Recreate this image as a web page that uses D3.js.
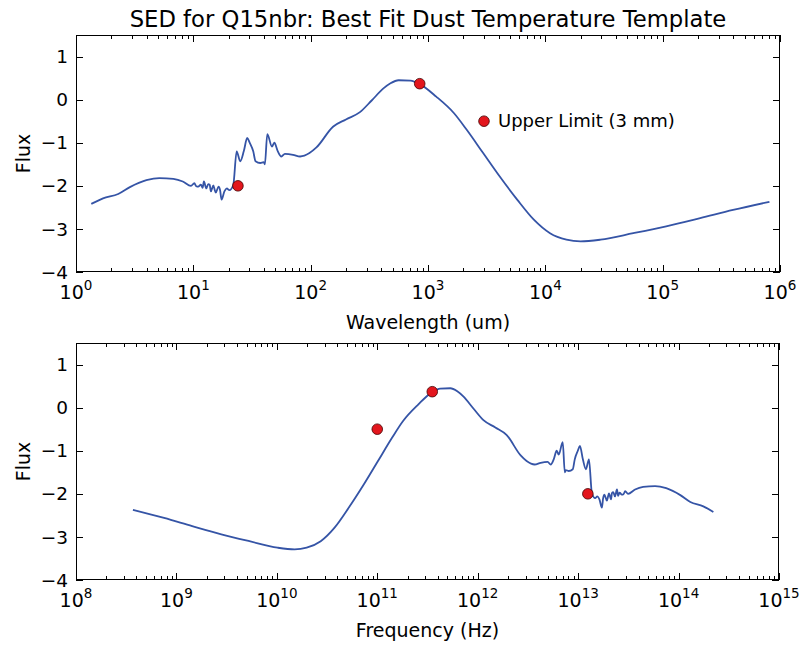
<!DOCTYPE html>
<html><head><meta charset="utf-8">
<script src="https://cdn.jsdelivr.net/npm/d3@7"></script>
<style>
body{margin:0;background:#fff}
text{font-family:"DejaVu Sans",sans-serif;fill:#000}
</style>
</head><body>
<svg id="chart" width="804" height="646"></svg>
<script>
// ---- data ----
const wavelengthUm = [1.35,1.70,2.29,2.88,3.98,5.13,6.76,8.13,9.55,10.2,10.6,11.0,11.6,12.0,12.3,12.9,13.4,13.8,14.1,14.8,15.2,15.5,16.4,16.9,17.4,18.4,19.3,20.3,21.9,
  23.4,25.1,26.9,28.8,30.2,32.4,33.9,37.2,39.8,40.7,42.7,46.8,49.0,52.5,56.2,60.3,70.8,81.3,97.7,112,155,200,263,331,417,479,562,708,851,
  1175,1660,2138,2951,4074,5754,7943,10965,15136,19953,29512,56234,107152,208930,398107,812831];
const flux = [-2.42,-2.29,-2.19,-2.03,-1.87,-1.82,-1.84,-1.90,-2.00,-1.94,-2.01,-2.02,-1.97,-2.05,-1.90,-2.06,-1.96,-1.98,-2.13,-1.99,-2.09,-2.16,-2.02,-2.10,-2.32,-2.13,-2.06,-2.10,-1.98,
  -1.20,-1.43,-1.20,-0.89,-1.00,-1.20,-1.43,-1.47,-1.45,-1.50,-0.80,-1.09,-1.00,-1.20,-1.32,-1.26,-1.28,-1.32,-1.24,-1.11,-0.63,-0.46,-0.29,-0.02,0.26,0.38,0.45,0.44,0.36,
  0.07,-0.31,-0.70,-1.24,-1.78,-2.32,-2.78,-3.10,-3.25,-3.29,-3.25,-3.10,-2.94,-2.75,-2.56,-2.37];
const photWavelengthUm = [24, 850, 3000];
const photFlux = [-2.0, 0.37, -0.5];
const upperLimitLabel = "Upper Limit (3 mm)";
const yTicks = [-4,-3,-2,-1,0,1];
const wavelengthDecades = [0,1,2,3,4,5,6];
const frequencyDecades = [8,9,10,11,12,13,14,15];
const SPEED_OF_LIGHT_UM_S = 2.998e14;
const titleText = "SED for Q15nbr: Best Fit Dust Temperature Template";

const svg = d3.select("#chart");
const lineColor = "#3554a6";
const dotFill = "#e3161d";

function drawPanel(cfg) {
  const {left, right, top, bottom, decades, xs, pxs, xLabel, id, annotate} = cfg;
  const x = d3.scaleLog().domain([Math.pow(10, decades[0]), Math.pow(10, decades[decades.length-1])]).range([left, right]);
  const y = d3.scaleLinear().domain([-4, 1.5]).range([bottom, top]);
  const g = svg.append("g");

  g.append("clipPath").attr("id", id).append("rect")
    .attr("x", left).attr("y", top).attr("width", right-left).attr("height", bottom-top);

  // ticks (inside, all four sides)
  const major = decades.map(d => Math.pow(10, d));
  const minor = [];
  for (let i = 0; i < decades.length-1; i++) for (let k = 2; k <= 9; k++) minor.push(k*Math.pow(10, decades[i]));
  const tk = g.append("g").attr("stroke", "#000").attr("stroke-width", 1);
  major.forEach(v => {
    const px = Math.round(x(v)) + 0.5;
    tk.append("line").attr("x1", px).attr("x2", px).attr("y1", bottom).attr("y2", bottom-7);
    tk.append("line").attr("x1", px).attr("x2", px).attr("y1", top).attr("y2", top+7);
  });
  minor.forEach(v => {
    const px = Math.round(x(v)) + 0.5;
    tk.append("line").attr("x1", px).attr("x2", px).attr("y1", bottom).attr("y2", bottom-4);
    tk.append("line").attr("x1", px).attr("x2", px).attr("y1", top).attr("y2", top+4);
  });
  yTicks.forEach(v => {
    const py = Math.round(y(v)) + 0.5;
    tk.append("line").attr("x1", left).attr("x2", left+7).attr("y1", py).attr("y2", py);
    tk.append("line").attr("x1", right).attr("x2", right-7).attr("y1", py).attr("y2", py);
  });

  // curve (sorted by screen x so the monotone curve is well defined)
  const pts = xs.map((v, i) => [v, flux[i]]).sort((a, b) => a[0] - b[0]);
  g.append("path").datum(pts)
    .attr("clip-path", `url(#${id})`)
    .attr("fill", "none").attr("stroke", lineColor).attr("stroke-width", 1.8)
    .attr("stroke-linejoin", "round")
    .attr("d", d3.line().curve(d3.curveMonotoneX).x(d => x(d[0])).y(d => y(d[1])));

  // photometry points
  g.selectAll("circle.p").data(pxs.map((v, i) => [v, photFlux[i]])).join("circle")
    .attr("cx", d => x(d[0])).attr("cy", d => y(d[1])).attr("r", 5.3)
    .attr("fill", dotFill).attr("stroke", "#400").attr("stroke-width", 0.8);

  if (annotate) {
    g.append("text").attr("x", x(pxs[2]) + 14).attr("y", y(photFlux[2]))
      .attr("dy", "0.35em").attr("font-size", 18).text(upperLimitLabel);
  }

  // frame
  g.append("rect").attr("x", left+0.5).attr("y", top+0.5).attr("width", right-left-1).attr("height", bottom-top-1)
    .attr("fill", "none").attr("stroke", "#000").attr("stroke-width", 1);

  // y tick labels
  yTicks.forEach(v => {
    g.append("text").attr("x", left-8).attr("y", y(v)).attr("dy", "0.36em")
      .attr("text-anchor", "end").attr("font-size", 18.5)
      .text(v < 0 ? "\u2212" + Math.abs(v) : String(v));
  });
  // x tick labels
  decades.forEach(d => {
    const t = g.append("text").attr("x", x(Math.pow(10, d))).attr("y", bottom + 27)
      .attr("text-anchor", "middle").attr("font-size", 19);
    t.append("tspan").text("10");
    t.append("tspan").attr("dy", -9).attr("font-size", 13.5).text(String(d));
  });

  // axis labels
  g.append("text").attr("x", (left+right)/2).attr("y", bottom + 57)
    .attr("text-anchor", "middle").attr("font-size", 19).text(xLabel);
  g.append("text").attr("transform", `translate(${left-46},${(top+bottom)/2}) rotate(-90)`)
    .attr("text-anchor", "middle").attr("font-size", 19).text("Flux");
}

// title
svg.append("text").attr("x", 428).attr("y", 27).attr("text-anchor", "middle")
  .attr("font-size", 22.7).text(titleText);

drawPanel({left: 76, right: 780, top: 35, bottom: 272, decades: wavelengthDecades,
  xs: wavelengthUm, pxs: photWavelengthUm, xLabel: "Wavelength (um)", id: "clipTop", annotate: true});

drawPanel({left: 76, right: 779, top: 343, bottom: 580, decades: frequencyDecades,
  xs: wavelengthUm.map(w => SPEED_OF_LIGHT_UM_S / w), pxs: photWavelengthUm.map(w => SPEED_OF_LIGHT_UM_S / w),
  xLabel: "Frequency (Hz)", id: "clipBottom", annotate: false});
</script>
</body></html>
